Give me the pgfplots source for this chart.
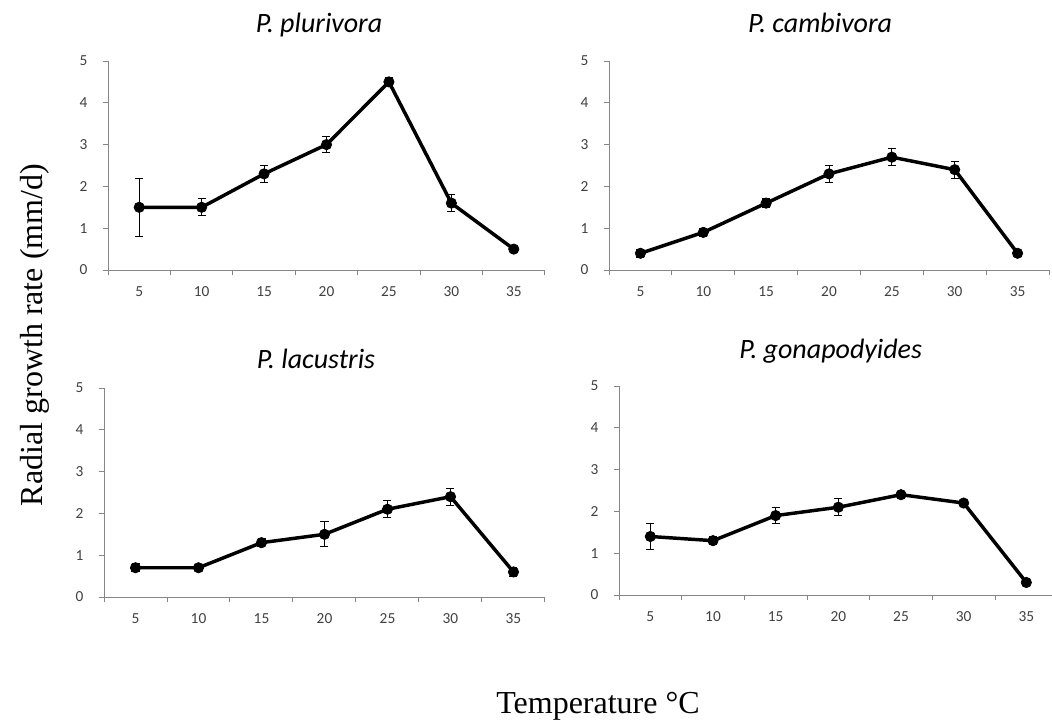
\documentclass[border=0pt]{standalone}
\usepackage{fontspec}
\setmainfont{Liberation Serif}
\newfontfamily\calfont{Carlito}
\usepackage{pgfplots}
\pgfplotsset{compat=1.18}
\definecolor{axgray}{RGB}{134,134,134}
\definecolor{lblgray}{RGB}{64,64,64}

% 1 px of the reference = 0.75pt
\pgfplotsset{
  panel/.style={
    scale only axis, anchor=south west,
    xmin=0.5, xmax=7.5, ymin=0, ymax=5,
    axis x line*=bottom, axis y line*=left,
    axis line style={draw=axgray, line width=0.75pt},
    xtick={1,...,7}, xticklabels={5,10,15,20,25,30,35},
    major x tick style={draw=none},
    extra x ticks={0.5,1.5,...,7.5}, extra x tick labels={},
    extra x tick style={major tick length=4pt, major x tick style={draw=axgray, line width=0.75pt}},
    ytick={0,...,5}, yticklabels={0,1,2,3,4,5},
    major y tick style={draw=axgray, line width=0.75pt},
    tick align=outside, major tick length=4pt,
    ticklabel style={font=\calfont\fontsize{11.5}{13}\selectfont, text=lblgray},
    xticklabel style={yshift=-5pt},
    yticklabel style={xshift=-8pt},
    clip=false,
  },
  growth/.style={
    black, line width=2.6pt, mark=*, mark size=3.9pt,
    mark options={solid, fill=black, line width=0.5pt},
    error bars/.cd, y dir=both, y explicit,
    error bar style={black, line width=0.75pt},
    error mark options={black, line width=0.75pt, mark size=3pt, rotate=90},
  },
}
\tikzset{ptitle/.style={font=\calfont\itshape\fontsize{21}{24}\selectfont, anchor=base}}

\begin{document}
\begin{tikzpicture}
\useasboundingbox (0,0) rectangle (789pt,-541.5pt);

% P. plurivora
\begin{axis}[panel, at={(81pt,-202.5pt)}, width=327.75pt, height=156.75pt]
\addplot+[growth] coordinates {
  (1,1.5) +- (0,0.7)
  (2,1.5) +- (0,0.2)
  (3,2.3) +- (0,0.2)
  (4,3.0) +- (0,0.2)
  (5,4.5) +- (0,0.1)
  (6,1.6) +- (0,0.2)
  (7,0.5) +- (0,0.04)
};
\end{axis}

% P. cambivora
\begin{axis}[panel, at={(456.75pt,-202.5pt)}, width=330pt, height=156.75pt]
\addplot+[growth] coordinates {
  (1,0.4) +- (0,0.1)
  (2,0.9) +- (0,0.1)
  (3,1.6) +- (0,0.1)
  (4,2.3) +- (0,0.2)
  (5,2.7) +- (0,0.2)
  (6,2.4) +- (0,0.2)
  (7,0.4) +- (0,0.04)
};
\end{axis}

% P. lacustris
\begin{axis}[panel, at={(78pt,-447.75pt)}, width=330.75pt, height=156.75pt]
\addplot+[growth] coordinates {
  (1,0.7) +- (0,0.1)
  (2,0.7) +- (0,0.04)
  (3,1.3) +- (0,0.1)
  (4,1.5) +- (0,0.3)
  (5,2.1) +- (0,0.2)
  (6,2.4) +- (0,0.2)
  (7,0.6) +- (0,0.1)
};
\end{axis}

% P. gonapodyides
\begin{axis}[panel, at={(464.25pt,-446.25pt)}, width=329pt, height=156.75pt]
\addplot+[growth] coordinates {
  (1,1.4) +- (0,0.3)
  (2,1.3) +- (0,0.1)
  (3,1.9) +- (0,0.2)
  (4,2.1) +- (0,0.2)
  (5,2.4) +- (0,0.08)
  (6,2.2) +- (0,0.05)
  (7,0.3) +- (0,0.03)
};
\end{axis}

% panel titles
\node[ptitle] at (239.25pt,-24pt) {P. plurivora};
\node[ptitle] at (615pt,-24pt) {P. cambivora};
\node[ptitle] at (237pt,-276pt) {P. lacustris};
\node[ptitle] at (623pt,-268.5pt) {P. gonapodyides};

% shared axis titles
\node[rotate=90, anchor=base, font=\fontsize{24}{28}\selectfont] at (31.5pt,-251.25pt) {Radial growth rate (mm/d)};
\node[anchor=base, font=\fontsize{24}{28}\selectfont] at (448.5pt,-534.75pt) {Temperature \textdegree C};
\end{tikzpicture}
\end{document}
